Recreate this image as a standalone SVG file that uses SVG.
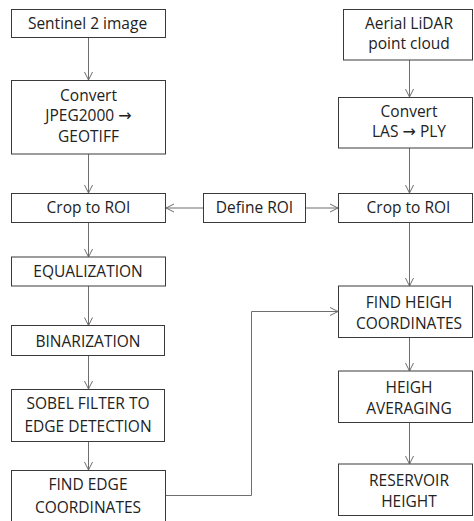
<svg xmlns="http://www.w3.org/2000/svg" width="474" height="521" viewBox="0 0 474 521">
<defs>
<marker id="arr" viewBox="0 0 10 10" refX="9" refY="5" markerWidth="10" markerHeight="10" markerUnits="userSpaceOnUse" orient="auto">
<path d="M1,1 L9,5 L1,9" fill="none" stroke="#6e6e6e" stroke-width="1"/>
</marker>
<style>
.box{fill:#ffffff;stroke:#3a3a3a;stroke-width:1}
.t{font-family:"Open Sans","Liberation Sans",sans-serif;font-size:15.5px;fill:#222222;text-anchor:middle}
.a{font-family:"DejaVu Sans",sans-serif;font-size:16px}
.c{fill:none;stroke:#6e6e6e;stroke-width:1;marker-end:url(#arr)}
</style>
</defs>
<rect width="474" height="521" fill="#ffffff"/>
<g id="connectors">
<path class="c" d="M88.5,38 V80"/>
<path class="c" d="M88.5,154 V193"/>
<path class="c" d="M203.5,208 H166"/>
<path class="c" d="M305.5,208 H338"/>
<path class="c" d="M88.5,222 V257"/>
<path class="c" d="M88.5,286 V325.5"/>
<path class="c" d="M88.5,355.5 V389"/>
<path class="c" d="M88.5,441.5 V470"/>
<path class="c" d="M409.5,60 V97"/>
<path class="c" d="M409.5,148 V193"/>
<path class="c" d="M409.5,222.5 V286"/>
<path class="c" d="M409.5,337.5 V371"/>
<path class="c" d="M409.5,422.5 V464"/>
<path class="c" d="M165.5,495.5 H251.5 V311.5 H338"/>
</g>
<g id="sentinel"><rect class="box" x="11.5" y="9.5" width="154" height="28"/><text class="t" x="87.5" y="29">Sentinel 2 image</text></g>
<g id="convert-jpeg"><rect class="box" x="11.5" y="80.5" width="154" height="73.5"/><text class="t" x="88.5" y="101">Convert</text><text class="t" x="88.5" y="121">JPEG2000 <tspan class="a">→</tspan></text><text class="t" x="88.5" y="142">GEOTIFF</text></g>
<g id="crop-left"><rect class="box" x="11.5" y="193.5" width="154" height="29"/><text class="t" x="88.5" y="213">Crop to ROI</text></g>
<g id="define-roi"><rect class="box" x="203.5" y="193.5" width="102" height="29"/><text class="t" x="254.5" y="213">Define ROI</text></g>
<g id="equalization"><rect class="box" x="11.5" y="257" width="154" height="29"/><text class="t" x="88" y="276.5">EQUALIZATION</text></g>
<g id="binarization"><rect class="box" x="11.5" y="325.5" width="153" height="30"/><text class="t" x="88" y="346.5">BINARIZATION</text></g>
<g id="sobel"><rect class="box" x="11.5" y="389.5" width="153" height="52"/><text class="t" x="88" y="408.5">SOBEL FILTER TO</text><text class="t" x="88" y="431.5">EDGE DETECTION</text></g>
<g id="find-edge"><rect class="box" x="11.5" y="470.5" width="154" height="60"/><text class="t" x="88" y="490">FIND EDGE</text><text class="t" x="88" y="512.5">COORDINATES</text></g>
<g id="lidar"><rect class="box" x="343.5" y="9.5" width="129" height="50.5"/><text class="t" x="409" y="28.5">Aerial LiDAR</text><text class="t" x="409" y="49">point cloud</text></g>
<g id="convert-las"><rect class="box" x="338.5" y="97.5" width="134" height="50.5"/><text class="t" x="409" y="117">Convert</text><text class="t" x="409" y="137">LAS <tspan class="a">→</tspan> PLY</text></g>
<g id="crop-right"><rect class="box" x="338.5" y="193.5" width="134" height="29"/><text class="t" x="408.5" y="213">Crop to ROI</text></g>
<g id="find-heigh"><rect class="box" x="338.5" y="286" width="134" height="51.5"/><text class="t" x="409" y="307.5">FIND HEIGH</text><text class="t" x="409" y="328.5">COORDINATES</text></g>
<g id="heigh-avg"><rect class="box" x="338.5" y="371" width="134" height="51.5"/><text class="t" x="409" y="392.5">HEIGH</text><text class="t" x="409" y="413.5">AVERAGING</text></g>
<g id="reservoir"><rect class="box" x="338.5" y="464" width="134" height="51.5"/><text class="t" x="409" y="485.5">RESERVOIR</text><text class="t" x="409" y="506.5">HEIGHT</text></g>
</svg>
